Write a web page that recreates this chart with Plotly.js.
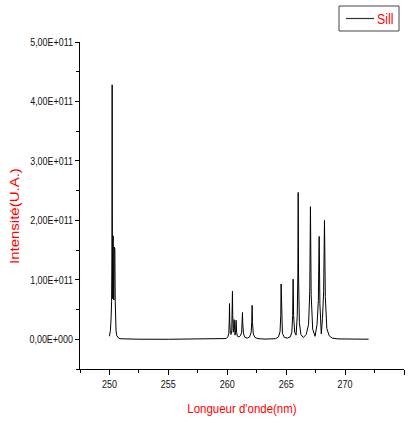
<!DOCTYPE html>
<html>
<head>
<meta charset="utf-8">
<script src="https://cdn.plot.ly/plotly-3.0.1.min.js"></script>
<style>
  html, body { margin: 0; padding: 0; background: #ffffff; }
  #chart { width: 411px; height: 423px; }
</style>
</head>
<body>
<div id="chart"></div>
<script>
// Emission spectrum of silicon (Si II), wavelength in nm, intensity in arbitrary units
const wavelength = [
  250.00, 250.08, 250.14, 250.18, 250.21, 250.23, 250.25, 250.28, 250.31, 250.34,
  250.38, 250.41, 250.43, 250.46, 250.49, 250.52, 250.56, 250.62, 250.70, 250.80,
  251.00, 251.50, 252.50, 255.00, 258.00, 259.50, 259.90, 260.05, 260.13, 260.17,
  260.19, 260.21, 260.26, 260.32, 260.38, 260.42, 260.44, 260.46, 260.51, 260.55,
  260.58, 260.61, 260.66, 260.71, 260.75, 260.79, 260.86, 260.98, 261.12, 261.22,
  261.27, 261.29, 261.31, 261.38, 261.50, 261.70, 261.90, 262.03, 262.08, 262.11,
  262.14, 262.21, 262.35, 262.60, 263.20, 264.10, 264.35, 264.48, 264.54, 264.57,
  264.60, 264.68, 264.85, 265.10, 265.35, 265.48, 265.55, 265.59, 265.63, 265.72,
  265.84, 265.94, 265.99, 266.02, 266.05, 266.12, 266.25, 266.45, 266.70, 266.90,
  267.00, 267.06, 267.12, 267.25, 267.45, 267.62, 267.73, 267.80, 267.86, 267.98,
  268.08, 268.18, 268.25, 268.32, 268.45, 268.65, 268.90, 269.40, 270.50, 272.00
];
const intensity = [
  0.05e11, 0.15e11, 0.35e11, 0.64e11, 1.40e11, 4.28e11, 1.30e11, 0.68e11, 1.74e11, 0.70e11,
  0.66e11, 1.55e11, 0.68e11, 1.52e11, 0.64e11, 0.35e11, 0.14e11, 0.06e11, 0.03e11, 0.015e11,
  0.008e11, 0.003e11, 0.001e11, 0, 0, 0.003e11, 0.012e11, 0.04e11, 0.10e11, 0.32e11,
  0.60e11, 0.30e11, 0.10e11, 0.08e11, 0.15e11, 0.45e11, 0.81e11, 0.42e11, 0.12e11, 0.18e11,
  0.33e11, 0.15e11, 0.07e11, 0.14e11, 0.32e11, 0.12e11, 0.05e11, 0.04e11, 0.06e11, 0.12e11,
  0.30e11, 0.45e11, 0.28e11, 0.09e11, 0.03e11, 0.02e11, 0.04e11, 0.12e11, 0.30e11, 0.57e11,
  0.28e11, 0.09e11, 0.03e11, 0.01e11, 0.003e11, 0.01e11, 0.04e11, 0.13e11, 0.40e11, 0.93e11,
  0.40e11, 0.10e11, 0.03e11, 0.02e11, 0.04e11, 0.12e11, 0.40e11, 1.01e11, 0.40e11, 0.12e11,
  0.07e11, 0.40e11, 1.10e11, 2.47e11, 1.05e11, 0.28e11, 0.08e11, 0.03e11, 0.08e11, 0.25e11,
  0.80e11, 2.23e11, 0.75e11, 0.17e11, 0.05e11, 0.25e11, 0.65e11, 1.73e11, 0.60e11, 0.09e11,
  0.35e11, 0.80e11, 2.00e11, 0.72e11, 0.18e11, 0.06e11, 0.02e11, 0.006e11, 0.002e11, 0.001e11
];

const seriesName = 'Sill';
const xTickVals = [250, 255, 260, 265, 270, 275];
const yTickVals = [0, 1e11, 2e11, 3e11, 4e11, 5e11];
const yTickText = ["0,00E+000", "1,00E+011", "2,00E+011", "3,00E+011", "4,00E+011", "5,00E+011"];

const font = "Liberation Sans, Arial, sans-serif";
const red = '#ff0000';

// plot area in pixels: left 80, right 404, top 42, bottom 369
const px = v => (v - 80) / 324;
const py = v => (369 - v) / 327;

const trace = {
  x: wavelength,
  y: intensity,
  type: 'scatter',
  mode: 'lines',
  name: seriesName,
  showlegend: false,
  line: { color: '#000000', width: 1 }
};

const layout = {
  width: 411,
  height: 423,
  margin: { l: 80, r: 7, t: 42, b: 54 },
  paper_bgcolor: '#ffffff',
  plot_bgcolor: '#ffffff',
  showlegend: false,
  xaxis: {
    range: [247.5, 275],
    tickmode: 'array',
    tickvals: xTickVals,
    ticks: 'outside',
    ticklen: 5,
    tickwidth: 1,
    tickcolor: '#000000',
    showline: true,
    linecolor: '#000000',
    linewidth: 1,
    showgrid: false,
    zeroline: false,
    tickfont: { family: font, size: 11, color: '#111111' },
    minor: { tickvals: [247.5, 252.5, 257.5, 262.5, 267.5, 272.5], ticks: 'outside', ticklen: 3, tickcolor: '#000000', showgrid: false },
    title: {
      text: "Longueur d'onde(nm)",
      standoff: 14,
      font: { family: font, size: 13.5, color: red }
    }
  },
  yaxis: {
    range: [-0.5e11, 5e11],
    tickmode: 'array',
    tickvals: yTickVals,
    ticktext: yTickText,
    ticks: 'outside',
    ticklen: 4,
    tickwidth: 1,
    tickcolor: '#000000',
    showline: true,
    linecolor: '#000000',
    linewidth: 1,
    showgrid: false,
    zeroline: false,
    tickfont: { family: font, size: 10.5, color: '#111111' },
    minor: { tickvals: [-0.5e11, 0.5e11, 1.5e11, 2.5e11, 3.5e11, 4.5e11], ticks: 'outside', ticklen: 3, tickcolor: '#000000', showgrid: false }
  },
  shapes: [
    // legend frame and line sample
    { type: 'rect', xref: 'paper', yref: 'paper', x0: px(339), x1: px(399), y0: py(31), y1: py(6),
      line: { color: '#444444', width: 1 }, fillcolor: '#ffffff' },
    { type: 'line', xref: 'paper', yref: 'paper', x0: px(346), x1: px(374), y0: py(18.5), y1: py(18.5),
      line: { color: '#333333', width: 1.2 } }
  ],
  annotations: [
    {
      text: 'Intensité(U.A.)',
      xref: 'paper', yref: 'paper',
      x: px(15), y: py(216), xanchor: 'center', yanchor: 'middle',
      textangle: -90,
      showarrow: false,
      font: { family: font, size: 15, color: red }
    },
    {
      text: seriesName,
      xref: 'paper', yref: 'paper',
      x: px(375), y: py(18.5), xanchor: 'left', yanchor: 'middle',
      showarrow: false,
      font: { family: font, size: 15, color: red }
    }
  ]
};

// Narrow the lettering horizontally around an anchor point of each label
function squeeze(nodes, sx, sy, anchor) {
  nodes.forEach(el => {
    const b = el.getBBox();
    const ax = anchor === 'end' ? b.x + b.width : anchor === 'start' ? b.x : b.x + b.width / 2;
    const ay = b.y + b.height / 2;
    const t = el.getAttribute('transform') || '';
    el.setAttribute('transform',
      `${t} translate(${ax},${ay}) scale(${sx},${sy}) translate(${-ax},${-ay})`);
  });
}

const gd = document.getElementById('chart');
Plotly.newPlot(gd, [trace], layout, { staticPlot: true, displayModeBar: false }).then(() => {
  squeeze(gd.querySelectorAll('g.ytick text'), 0.85, 1, 'end');
  squeeze(gd.querySelectorAll('g.xtick text'), 0.82, 1, 'middle');
  squeeze(gd.querySelectorAll('text.xtitle'), 0.85, 1, 'middle');
  const ann = gd.querySelectorAll('g.annotation text.annotation-text');
  if (ann[0]) squeeze([ann[0]], 1, 0.82, 'middle');
  if (ann[1]) squeeze([ann[1]], 0.82, 1, 'start');
});
</script>
</body>
</html>
